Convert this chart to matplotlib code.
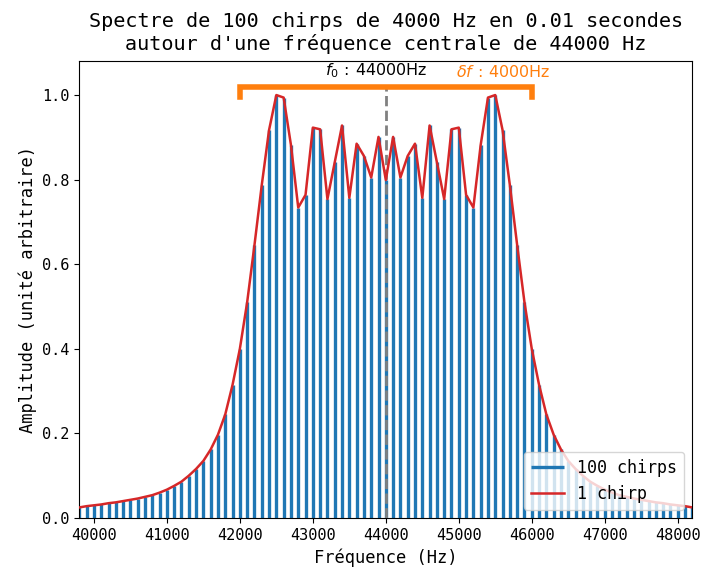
import numpy as np
import matplotlib
matplotlib.use("Agg")
import matplotlib.pyplot as plt

plt.rcParams['font.family'] = ['DejaVu Sans Mono']
plt.rcParams['mathtext.fontset'] = 'dejavusans'

# frequencies (Hz), one line every 100 Hz
freqs = np.arange(39800, 48201, 100)

# amplitude of the spectrum (1 chirp envelope), read at each 100 Hz
amp_1chirp = [
    0.025, 0.028, 0.030, 0.032, 0.035, 0.037, 0.040, 0.043, 0.046, 0.050,   # 39800-40700
    0.054, 0.060, 0.067, 0.076, 0.086, 0.100, 0.116, 0.135, 0.162, 0.197,   # 40800-41700
    0.245, 0.315, 0.400, 0.510, 0.645, 0.787, 0.917, 1.000, 0.994, 0.882,   # 41800-42700
    0.734, 0.764, 0.923, 0.919, 0.754, 0.841, 0.928, 0.757, 0.885, 0.856,   # 42800-43700
    0.805, 0.901, 0.799, 0.901, 0.805, 0.856, 0.885, 0.757, 0.928, 0.841,   # 43800-44700
    0.754, 0.919, 0.923, 0.764, 0.734, 0.882, 0.994, 1.000, 0.917, 0.787,   # 44800-45700
    0.645, 0.510, 0.400, 0.315, 0.245, 0.197, 0.162, 0.135, 0.116, 0.100,   # 45800-46700
    0.086, 0.076, 0.067, 0.060, 0.054, 0.050, 0.046, 0.043, 0.040, 0.037,   # 46800-47700
    0.035, 0.032, 0.030, 0.028, 0.025,                                      # 47800-48200
]
# spectrum of 100 chirps: lines at the same frequencies, same heights
amp_100chirps = list(amp_1chirp)

f0 = 44000
df = 4000
bracket_y = 1.018
bracket_low = 0.995

fig = plt.figure(figsize=(7.05, 5.72), dpi=100)
ax = fig.add_axes([0.1125, 0.0944, 0.982 - 0.1125, 0.893 - 0.0944])

ax.vlines(freqs, 0, amp_100chirps, color='#1f77b4', linewidth=2.4, zorder=2,
          label='100 chirps')
ax.plot([f0, f0], [0, bracket_y], color='gray', linestyle='--', linewidth=2,
        zorder=3)
ax.plot(freqs, amp_1chirp, color='#d62728', linewidth=1.8, zorder=4,
        label='1 chirp')

# bracket for the bandwidth
ax.plot([f0 - df / 2, f0 - df / 2, f0 + df / 2, f0 + df / 2],
        [bracket_low, bracket_y, bracket_y, bracket_low],
        color='#ff7f0e', linewidth=4, solid_joinstyle='miter', zorder=5)

ax.text(43870, 1.036, r'$f_0\,:\,44000\mathrm{Hz}$', ha='center', va='bottom',
        fontsize=11.5, color='black')
ax.text(45610, 1.036, r'$\delta f\,:\,4000\mathrm{Hz}$', ha='center', va='bottom',
        fontsize=11.5, color='#ff7f0e')

ax.set_xlim(39800, 48200)
ax.set_ylim(0, 1.08)
ax.set_xticks(np.arange(40000, 48001, 1000))
ax.set_yticks([0.0, 0.2, 0.4, 0.6, 0.8, 1.0])
ax.tick_params(labelsize=11)

ax.set_xlabel('Fréquence (Hz)', fontsize=12.3)
ax.set_ylabel('Amplitude (unité arbitraire)', fontsize=12.3)
ax.set_title("Spectre de 100 chirps de 4000 Hz en 0.01 secondes\n"
             "autour d'une fréquence centrale de 44000 Hz", fontsize=14.5,
             pad=8)

ax.legend(loc='lower right', fontsize=12)

fig.savefig('out.png', dpi=100)
